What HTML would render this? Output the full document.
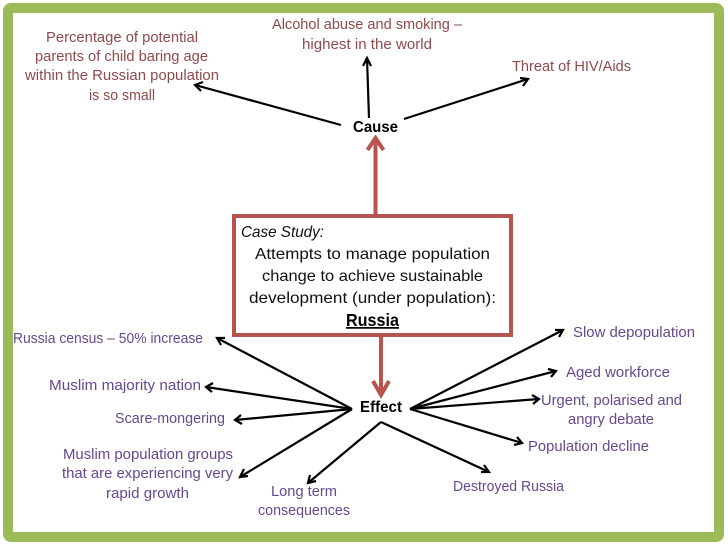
<!DOCTYPE html>
<html><head><meta charset="utf-8"><style>
html,body{margin:0;padding:0;background:#fff;width:728px;height:546px;overflow:hidden}
svg{display:block}
text{font-family:"Liberation Sans",sans-serif;font-size:14.5px}
.m{fill:#8f4a4c}
.p{fill:#66488f}
.k{fill:#111;font-size:16px}
.b{font-weight:bold;font-size:15.5px;fill:#000}
.l line{stroke:#000;stroke-width:2.2}
.l path{fill:none;stroke:#000;stroke-width:2.2}
</style></head><body>
<svg width="728" height="546" viewBox="0 0 728 546" xmlns="http://www.w3.org/2000/svg">
<rect x="8" y="8" width="711" height="529" rx="3" fill="#fff" stroke="#9bbb59" stroke-width="10"/>

<text class="m" x="46" y="42" textLength="152" lengthAdjust="spacingAndGlyphs">Percentage of potential</text>
<text class="m" x="35" y="61" textLength="173" lengthAdjust="spacingAndGlyphs">parents of child baring age</text>
<text class="m" x="25" y="80" textLength="194" lengthAdjust="spacingAndGlyphs">within the Russian population</text>
<text class="m" x="89" y="100" textLength="66" lengthAdjust="spacingAndGlyphs">is so small</text>
<text class="m" x="272" y="29" textLength="190" lengthAdjust="spacingAndGlyphs">Alcohol abuse and smoking –</text>
<text class="m" x="302" y="49" textLength="130" lengthAdjust="spacingAndGlyphs">highest in the world</text>
<text class="m" x="512" y="71" textLength="119" lengthAdjust="spacingAndGlyphs">Threat of HIV/Aids</text>

<text class="b" x="353" y="132" textLength="45" lengthAdjust="spacingAndGlyphs">Cause</text>
<text class="b" x="360" y="412" textLength="42" lengthAdjust="spacingAndGlyphs">Effect</text>

<rect x="234" y="216" width="277" height="119" fill="#fff" stroke="#b85450" stroke-width="4"/>
<text class="k" x="241" y="237" textLength="83" lengthAdjust="spacingAndGlyphs" font-style="italic">Case Study:</text>
<text class="k" x="255" y="259" textLength="235" lengthAdjust="spacingAndGlyphs">Attempts to manage population</text>
<text class="k" x="262" y="281" textLength="221" lengthAdjust="spacingAndGlyphs">change to achieve sustainable</text>
<text class="k" x="249" y="303" textLength="247" lengthAdjust="spacingAndGlyphs">development (under population):</text>
<text x="346" y="326" textLength="53" lengthAdjust="spacingAndGlyphs" style="font-size:17.5px;font-weight:bold" text-decoration="underline" fill="#000">Russia</text>

<g fill="none" stroke="#b85450" stroke-width="4">
<line x1="375.5" y1="214" x2="375.5" y2="139"/>
<path d="M367.5 150 L375.5 138 L383.5 150"/>
<line x1="381" y1="337" x2="381" y2="395"/>
<path d="M373 381 L381 395 L389 381"/>
</g>

<g class="l">
<line x1="341" y1="125" x2="195" y2="85"/><path d="M203 82 L195 85 L201 91"/>
<line x1="369" y1="118" x2="367" y2="58"/><path d="M363 66 L367 58 L371 66"/>
<line x1="404" y1="119" x2="528" y2="79"/><path d="M520 78 L528 79 L523 86"/>
<line x1="352" y1="409" x2="217" y2="338"/><path d="M225 338 L217 338 L221 345"/>
<line x1="352" y1="409" x2="206" y2="387"/><path d="M213 383 L206 387 L212 392"/>
<line x1="352" y1="409" x2="235" y2="420"/><path d="M241 415 L235 420 L242 424"/>
<line x1="352" y1="409" x2="240" y2="477"/><path d="M248 476 L240 477 L244 469"/>
<line x1="381" y1="422" x2="308" y2="483"/><path d="M316 481 L308 483 L310 475"/>
<line x1="381" y1="422" x2="489" y2="472"/><path d="M481 472 L489 472 L484 465"/>
<line x1="410" y1="409" x2="563" y2="330"/><path d="M555 330 L563 330 L559 337"/>
<line x1="410" y1="409" x2="556" y2="371"/><path d="M548 369 L556 371 L551 377"/>
<line x1="410" y1="409" x2="539" y2="399"/><path d="M532 395 L539 399 L533 404"/>
<line x1="410" y1="409" x2="522" y2="443"/><path d="M517 437 L522 443 L514 445"/>
</g>

<text class="p" x="13" y="343" textLength="190" lengthAdjust="spacingAndGlyphs">Russia census – 50% increase</text>
<text class="p" x="49" y="390" textLength="152" lengthAdjust="spacingAndGlyphs">Muslim majority nation</text>
<text class="p" x="115" y="423" textLength="110" lengthAdjust="spacingAndGlyphs">Scare-mongering</text>
<text class="p" x="63" y="459" textLength="170" lengthAdjust="spacingAndGlyphs">Muslim population groups</text>
<text class="p" x="62" y="478" textLength="171" lengthAdjust="spacingAndGlyphs">that are experiencing very</text>
<text class="p" x="106" y="498" textLength="83" lengthAdjust="spacingAndGlyphs">rapid growth</text>
<text class="p" x="271" y="496" textLength="66" lengthAdjust="spacingAndGlyphs">Long term</text>
<text class="p" x="258" y="515" textLength="92" lengthAdjust="spacingAndGlyphs">consequences</text>
<text class="p" x="573" y="337" textLength="122" lengthAdjust="spacingAndGlyphs">Slow depopulation</text>
<text class="p" x="566" y="377" textLength="104" lengthAdjust="spacingAndGlyphs">Aged workforce</text>
<text class="p" x="541" y="405" textLength="141" lengthAdjust="spacingAndGlyphs">Urgent, polarised and</text>
<text class="p" x="568" y="424" textLength="86" lengthAdjust="spacingAndGlyphs">angry debate</text>
<text class="p" x="528" y="451" textLength="121" lengthAdjust="spacingAndGlyphs">Population decline</text>
<text class="p" x="453" y="491" textLength="111" lengthAdjust="spacingAndGlyphs">Destroyed Russia</text>
</svg>
</body></html>
